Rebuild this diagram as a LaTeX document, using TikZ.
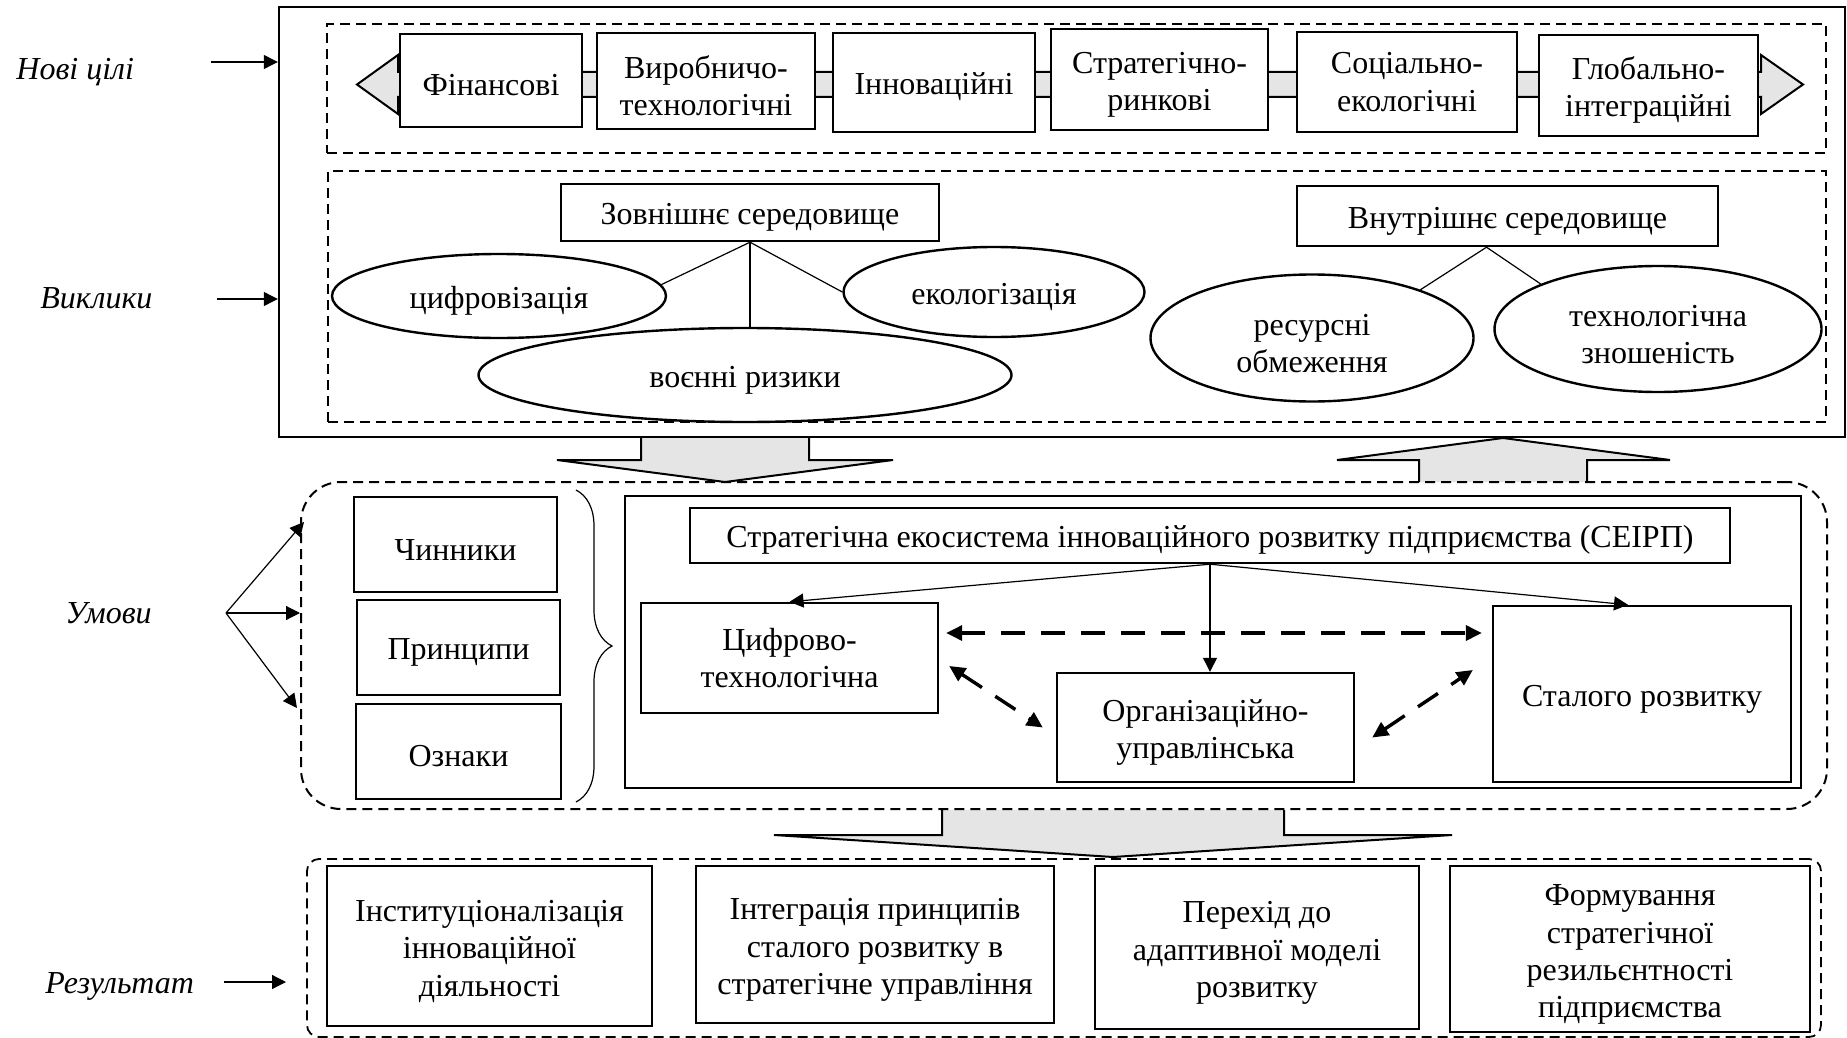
\documentclass[tikz,border=0pt]{standalone}
\usepackage{fontspec}
\setmainfont{Liberation Serif}
\usetikzlibrary{arrows.meta,shapes.geometric,decorations.pathreplacing,calc}
% extra height on the first line of a multi-line label, so the text sits a bit lower
\newcommand{\boxstrut}{\rule{0pt}{16pt}}

\begin{document}
\begin{tikzpicture}[x=0.5pt,y=-0.5pt,
  every node/.style={font=\fontsize{16}{18.6}\selectfont, align=center, inner sep=0pt},
  boxtext/.style={execute at begin node={\rule{0pt}{15.5pt}}},
  box/.style={draw, line width=1.2pt, fill=white, boxtext},
  oval/.style={draw, ellipse, line width=1.2pt, fill=white, boxtext},
  frame/.style={draw, line width=1.2pt},
  dashframe/.style={draw, line width=1pt, dash pattern=on 5pt off 3pt},
  link/.style={line width=0.6pt},
  thinarrow/.style={line width=0.6pt, -{Triangle[length=7pt,width=7pt]}},
  dasharrow/.style={line width=1.7pt, dash pattern=on 12pt off 8pt,
    {Triangle[length=8pt,width=7.5pt]}-{Triangle[length=8pt,width=7.5pt]}},
  blockarrow/.style={draw, line width=1pt, fill=black!10, line join=miter},
  sidelabel/.style={font=\fontsize{16}{18.6}\selectfont\itshape},
]
\useasboundingbox (0,0) rectangle (1847,1038);

% ---------- wide block arrows between the levels ----------
\draw[blockarrow] (641,437) -- (641,460) -- (557,460) -- (725,482) -- (893,460) -- (809,460) -- (809,437);
\draw[blockarrow] (1419,482) -- (1419,460) -- (1337,460) -- (1503,438) -- (1670,460) -- (1587,460) -- (1587,482);
\draw[blockarrow] (942,810) -- (942,835) -- (774,835) -- (1113,857) -- (1452,835) -- (1284,835) -- (1284,810);

% ---------- upper level: goals and challenges ----------
\node[frame, minimum width=783pt, minimum height=215pt] (outer) at (1062,222) {};
\node[dashframe, minimum width=749.5pt, minimum height=64.5pt] (goals) at (1076.5,88.5) {};
\node[dashframe, minimum width=749pt, minimum height=125.5pt] (chall) at (1076.5,296.5) {};

% double-headed band behind the goals
\draw[blockarrow] (357,84.5) -- (398,55) -- (398,72) -- (1761,72) -- (1761,55) -- (1803,84.5)
  -- (1761,114) -- (1761,97) -- (398,97) -- (398,114) -- cycle;

\node[box, minimum width=91pt,    minimum height=46.5pt] (g1) at (491,80.5)    {Фінансові};
\node[box, minimum width=109pt,   minimum height=48pt]   (g2) at (706,81)      {\boxstrut Виробничо-\\технологічні};
\node[box, minimum width=101pt,   minimum height=49.5pt] (g3) at (934,82.5)    {Інноваційні};
\node[box, minimum width=108.5pt, minimum height=50.5pt] (g4) at (1159.5,79.5) {\boxstrut Стратегічно-\\ринкові};
\node[box, minimum width=110pt,   minimum height=50pt]   (g5) at (1407,82)     {Соціально-\\екологічні};
\node[box, minimum width=109.5pt, minimum height=50.5pt] (g6) at (1648.5,85.5) {\boxstrut Глобально-\\інтеграційні};

% external environment
\node[box, minimum width=189pt, minimum height=28.5pt] (zovn) at (750,212.5) {Зовнішнє середовище};
\node[oval, minimum width=167pt,   minimum height=42pt] (cyfr) at (499,296) {цифровізація};
\node[oval, minimum width=150.5pt, minimum height=45pt] (ekol) at (994,292) {екологізація};
\node[oval, minimum width=266.5pt, minimum height=47pt] (voen) at (745,375) {воєнні ризики};
\draw[link] (zovn.south) -- (cyfr.4);
\draw[link] (zovn.south) -- (zovn.south |- voen.north);
\draw[link] (zovn.south) -- (ekol.west);

% internal environment
\node[box, minimum width=210.5pt, minimum height=30pt] (vnutr) at (1507.5,216) {Внутрішнє середовище};
\node[oval, minimum width=161.5pt, minimum height=63.5pt] (resurs) at (1312,338) {\boxstrut ресурсні\\обмеження};
\node[oval, minimum width=163.5pt, minimum height=63pt]   (tech)   at (1658,329) {\boxstrut технологічна\\зношеність};
\coordinate (vsplit) at ([xshift=-10.5pt]vnutr.south);
\draw[link] (vsplit) -- (resurs.24);
\draw[link] (vsplit) -- (tech.159);

% ---------- middle level: conditions ----------
\node[dashframe, rounded corners=20pt, minimum width=763pt, minimum height=163.5pt] (cond) at (1064,645.5) {};

\node[box, minimum width=101.5pt, minimum height=47.5pt] (chyn) at (455.5,544.5) {Чинники};
\node[box, minimum width=101.5pt, minimum height=47.5pt] (pryn) at (458.5,647.5) {Принципи};
\node[box, minimum width=102.5pt, minimum height=47.5pt] (ozn)  at (458.5,751.5) {Ознаки};
\draw[line width=0.6pt, decorate, decoration={brace, amplitude=18pt}] (576,490) -- (576,802);

\node[frame, minimum width=588pt, minimum height=146pt] (eco) at (1213,642) {};
\node[box, minimum width=520pt, minimum height=27.5pt] (title) at (1210,535.5)
  {Стратегічна екосистема інноваційного розвитку підприємства (СЕІРП)};
\node[box, minimum width=148.5pt, minimum height=55pt]   (cyfrbox) at (789.5,658)  {Цифрово-\\технологічна};
\node[box, minimum width=148.5pt, minimum height=54.5pt] (org)     at (1205.5,727.5) {\boxstrut Організаційно-\\управлінська};
\node[box, minimum width=149pt,   minimum height=88pt]   (stal)    at (1642,694)   {Сталого розвитку};

\draw[thinarrow] (title.south) -- (cyfrbox.north);
\draw[thinarrow] (title.south) -- (title.south |- org.north);
\draw[thinarrow] (title.south) -- ([xshift=-7pt]stal.north);

\draw[dasharrow] ([xshift=3.5pt,yshift=12.5pt]cyfrbox.east) -- ([xshift=-5pt,yshift=12.5pt]cyfrbox.east -| stal.west);
\draw[dasharrow] ([xshift=5pt,yshift=-4pt]cyfrbox.east) -- ([xshift=-6.5pt]org.west);
\draw[dasharrow] ([xshift=8.5pt,yshift=-5pt]org.east) -- ([xshift=-9.5pt,yshift=12pt]stal.west);

% ---------- lower level: results ----------
\node[dashframe, line width=0.9pt, rounded corners=6pt, minimum width=757pt, minimum height=89pt] (res) at (1064,948) {};
\node[box, minimum width=162.5pt, minimum height=80pt]   (r1) at (489.5,946)  {\boxstrut Інституціоналізація\\інноваційної\\діяльності};
\node[box, minimum width=179pt,   minimum height=78.5pt] (r2) at (875,944.5)  {\boxstrut Інтеграція принципів\\сталого розвитку в\\стратегічне управління};
\node[box, minimum width=162pt,   minimum height=81.5pt] (r3) at (1257,947.5) {\boxstrut Перехід до\\адаптивної моделі\\розвитку};
\node[box, minimum width=180pt,   minimum height=83pt]   (r4) at (1630,949)   {\boxstrut Формування\\стратегічної\\резильєнтності\\підприємства};

% ---------- level captions on the left ----------
\node[sidelabel, anchor=base west] (lnovi) at (16,80)  {Нові цілі};
\node[sidelabel, anchor=base west] (lvykl) at (40,308) {Виклики};
\node[sidelabel, anchor=base west] (lumov) at (65,623) {Умови};
\node[sidelabel, anchor=base west] (lres)  at (45,993) {Результат};

\coordinate (anovi) at (211,62);
\draw[thinarrow] (anovi) -- (anovi -| outer.west);
\coordinate (avykl) at (217,299);
\draw[thinarrow] (avykl) -- (avykl -| outer.west);
\coordinate (aumov) at (226,613);
\coordinate (aumovup) at (304,522);
\coordinate (aumovdn) at (297,708);
\draw[thinarrow] (aumov) -- (aumovup);
\draw[thinarrow] (aumov) -- (aumov -| cond.west);
\draw[thinarrow] (aumov) -- (aumovdn);
\coordinate (ares) at (224,982);
\coordinate (aresend) at (286,982);
\draw[thinarrow] (ares) -- (aresend);

\end{tikzpicture}
\end{document}
